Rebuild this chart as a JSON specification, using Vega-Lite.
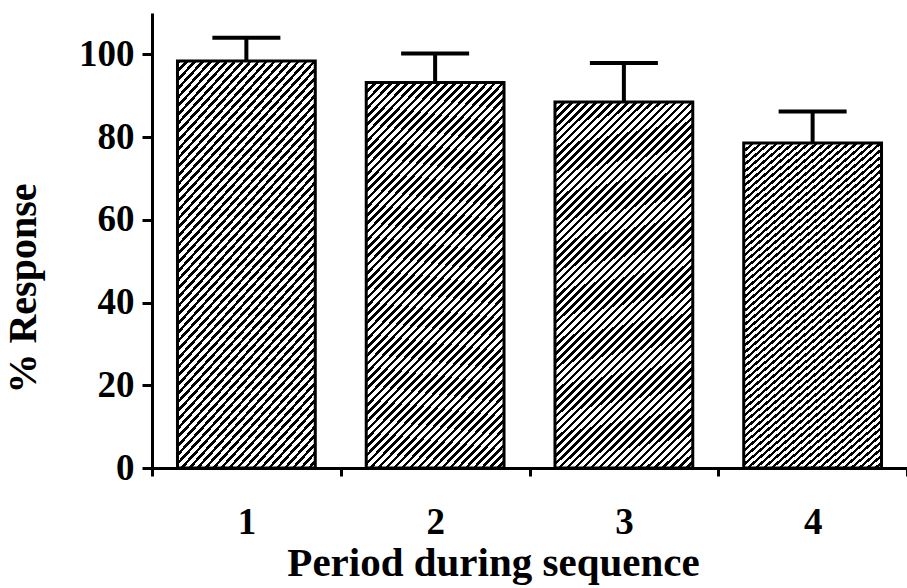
{
  "$schema": "https://vega.github.io/schema/vega-lite/v6.json",
  "width": 755,
  "height": 455,
  "autosize": "none",
  "padding": {"left": 152, "top": 13, "right": 0, "bottom": 120},
  "background": "white",
  "config": {
    "view": {"stroke": null},
    "font": "Liberation Serif",
    "axis": {"domainColor": "black", "domainWidth": 3, "tickColor": "black", "tickWidth": 3, "labelColor": "black", "titleColor": "black", "labelFont": "Liberation Serif", "titleFont": "Liberation Serif", "labelFontWeight": "bold", "titleFontWeight": "bold", "grid": false}
  },
  "data": {"values": [
    {"period": "1", "value": 98.4, "upper": 104.0},
    {"period": "2", "value": 93.2, "upper": 100.2},
    {"period": "3", "value": 88.5, "upper": 97.9},
    {"period": "4", "value": 78.6, "upper": 86.2}
  ]},
  "encoding": {
    "x": {"field": "period", "type": "ordinal", "scale": {"paddingInner": 0, "paddingOuter": 0},
      "axis": {"labelAngle": 0, "tickBand": "extent", "tickSize": 8, "labelBaseline": "alphabetic", "labelPadding": 57, "labelFontSize": 37,
        "title": "Period during sequence", "titleFontSize": 41, "titleX": 341, "titleY": 107, "titleBaseline": "alphabetic", "titleAlign": "center"}}
  },
  "layer": [
    {"mark": {"type": "bar", "width": {"band": 0.73}, "stroke": "black", "strokeWidth": 3,
      "fill": {"gradient": "linear", "x1": 0, "y1": 0, "x2": 0.446, "y2": 1.205, "stops": [
{"offset":0,"color":"#000"},{"offset":0.007,"color":"#000"},{"offset":0.007,"color":"#fff"},{"offset":0.015625,"color":"#fff"},
{"offset":0.015625,"color":"#000"},{"offset":0.022625,"color":"#000"},{"offset":0.022625,"color":"#fff"},{"offset":0.03125,"color":"#fff"},
{"offset":0.03125,"color":"#000"},{"offset":0.03825,"color":"#000"},{"offset":0.03825,"color":"#fff"},{"offset":0.046875,"color":"#fff"},
{"offset":0.046875,"color":"#000"},{"offset":0.053875,"color":"#000"},{"offset":0.053875,"color":"#fff"},{"offset":0.0625,"color":"#fff"},
{"offset":0.0625,"color":"#000"},{"offset":0.0695,"color":"#000"},{"offset":0.0695,"color":"#fff"},{"offset":0.078125,"color":"#fff"},
{"offset":0.078125,"color":"#000"},{"offset":0.085125,"color":"#000"},{"offset":0.085125,"color":"#fff"},{"offset":0.09375,"color":"#fff"},
{"offset":0.09375,"color":"#000"},{"offset":0.10075,"color":"#000"},{"offset":0.10075,"color":"#fff"},{"offset":0.109375,"color":"#fff"},
{"offset":0.109375,"color":"#000"},{"offset":0.116375,"color":"#000"},{"offset":0.116375,"color":"#fff"},{"offset":0.125,"color":"#fff"},
{"offset":0.125,"color":"#000"},{"offset":0.132,"color":"#000"},{"offset":0.132,"color":"#fff"},{"offset":0.140625,"color":"#fff"},
{"offset":0.140625,"color":"#000"},{"offset":0.147625,"color":"#000"},{"offset":0.147625,"color":"#fff"},{"offset":0.15625,"color":"#fff"},
{"offset":0.15625,"color":"#000"},{"offset":0.16325,"color":"#000"},{"offset":0.16325,"color":"#fff"},{"offset":0.171875,"color":"#fff"},
{"offset":0.171875,"color":"#000"},{"offset":0.178875,"color":"#000"},{"offset":0.178875,"color":"#fff"},{"offset":0.1875,"color":"#fff"},
{"offset":0.1875,"color":"#000"},{"offset":0.1945,"color":"#000"},{"offset":0.1945,"color":"#fff"},{"offset":0.203125,"color":"#fff"},
{"offset":0.203125,"color":"#000"},{"offset":0.210125,"color":"#000"},{"offset":0.210125,"color":"#fff"},{"offset":0.21875,"color":"#fff"},
{"offset":0.21875,"color":"#000"},{"offset":0.22575,"color":"#000"},{"offset":0.22575,"color":"#fff"},{"offset":0.234375,"color":"#fff"},
{"offset":0.234375,"color":"#000"},{"offset":0.241375,"color":"#000"},{"offset":0.241375,"color":"#fff"},{"offset":0.25,"color":"#fff"},
{"offset":0.25,"color":"#000"},{"offset":0.257,"color":"#000"},{"offset":0.257,"color":"#fff"},{"offset":0.265625,"color":"#fff"},
{"offset":0.265625,"color":"#000"},{"offset":0.272625,"color":"#000"},{"offset":0.272625,"color":"#fff"},{"offset":0.28125,"color":"#fff"},
{"offset":0.28125,"color":"#000"},{"offset":0.28825,"color":"#000"},{"offset":0.28825,"color":"#fff"},{"offset":0.296875,"color":"#fff"},
{"offset":0.296875,"color":"#000"},{"offset":0.303875,"color":"#000"},{"offset":0.303875,"color":"#fff"},{"offset":0.3125,"color":"#fff"},
{"offset":0.3125,"color":"#000"},{"offset":0.3195,"color":"#000"},{"offset":0.3195,"color":"#fff"},{"offset":0.328125,"color":"#fff"},
{"offset":0.328125,"color":"#000"},{"offset":0.335125,"color":"#000"},{"offset":0.335125,"color":"#fff"},{"offset":0.34375,"color":"#fff"},
{"offset":0.34375,"color":"#000"},{"offset":0.35075,"color":"#000"},{"offset":0.35075,"color":"#fff"},{"offset":0.359375,"color":"#fff"},
{"offset":0.359375,"color":"#000"},{"offset":0.366375,"color":"#000"},{"offset":0.366375,"color":"#fff"},{"offset":0.375,"color":"#fff"},
{"offset":0.375,"color":"#000"},{"offset":0.382,"color":"#000"},{"offset":0.382,"color":"#fff"},{"offset":0.390625,"color":"#fff"},
{"offset":0.390625,"color":"#000"},{"offset":0.397625,"color":"#000"},{"offset":0.397625,"color":"#fff"},{"offset":0.40625,"color":"#fff"},
{"offset":0.40625,"color":"#000"},{"offset":0.41325,"color":"#000"},{"offset":0.41325,"color":"#fff"},{"offset":0.421875,"color":"#fff"},
{"offset":0.421875,"color":"#000"},{"offset":0.428875,"color":"#000"},{"offset":0.428875,"color":"#fff"},{"offset":0.4375,"color":"#fff"},
{"offset":0.4375,"color":"#000"},{"offset":0.4445,"color":"#000"},{"offset":0.4445,"color":"#fff"},{"offset":0.453125,"color":"#fff"},
{"offset":0.453125,"color":"#000"},{"offset":0.460125,"color":"#000"},{"offset":0.460125,"color":"#fff"},{"offset":0.46875,"color":"#fff"},
{"offset":0.46875,"color":"#000"},{"offset":0.47575,"color":"#000"},{"offset":0.47575,"color":"#fff"},{"offset":0.484375,"color":"#fff"},
{"offset":0.484375,"color":"#000"},{"offset":0.491375,"color":"#000"},{"offset":0.491375,"color":"#fff"},{"offset":0.5,"color":"#fff"},
{"offset":0.5,"color":"#000"},{"offset":0.507,"color":"#000"},{"offset":0.507,"color":"#fff"},{"offset":0.515625,"color":"#fff"},
{"offset":0.515625,"color":"#000"},{"offset":0.522625,"color":"#000"},{"offset":0.522625,"color":"#fff"},{"offset":0.53125,"color":"#fff"},
{"offset":0.53125,"color":"#000"},{"offset":0.53825,"color":"#000"},{"offset":0.53825,"color":"#fff"},{"offset":0.546875,"color":"#fff"},
{"offset":0.546875,"color":"#000"},{"offset":0.553875,"color":"#000"},{"offset":0.553875,"color":"#fff"},{"offset":0.5625,"color":"#fff"},
{"offset":0.5625,"color":"#000"},{"offset":0.5695,"color":"#000"},{"offset":0.5695,"color":"#fff"},{"offset":0.578125,"color":"#fff"},
{"offset":0.578125,"color":"#000"},{"offset":0.585125,"color":"#000"},{"offset":0.585125,"color":"#fff"},{"offset":0.59375,"color":"#fff"},
{"offset":0.59375,"color":"#000"},{"offset":0.60075,"color":"#000"},{"offset":0.60075,"color":"#fff"},{"offset":0.609375,"color":"#fff"},
{"offset":0.609375,"color":"#000"},{"offset":0.616375,"color":"#000"},{"offset":0.616375,"color":"#fff"},{"offset":0.625,"color":"#fff"},
{"offset":0.625,"color":"#000"},{"offset":0.632,"color":"#000"},{"offset":0.632,"color":"#fff"},{"offset":0.640625,"color":"#fff"},
{"offset":0.640625,"color":"#000"},{"offset":0.647625,"color":"#000"},{"offset":0.647625,"color":"#fff"},{"offset":0.65625,"color":"#fff"},
{"offset":0.65625,"color":"#000"},{"offset":0.66325,"color":"#000"},{"offset":0.66325,"color":"#fff"},{"offset":0.671875,"color":"#fff"},
{"offset":0.671875,"color":"#000"},{"offset":0.678875,"color":"#000"},{"offset":0.678875,"color":"#fff"},{"offset":0.6875,"color":"#fff"},
{"offset":0.6875,"color":"#000"},{"offset":0.6945,"color":"#000"},{"offset":0.6945,"color":"#fff"},{"offset":0.703125,"color":"#fff"},
{"offset":0.703125,"color":"#000"},{"offset":0.710125,"color":"#000"},{"offset":0.710125,"color":"#fff"},{"offset":0.71875,"color":"#fff"},
{"offset":0.71875,"color":"#000"},{"offset":0.72575,"color":"#000"},{"offset":0.72575,"color":"#fff"},{"offset":0.734375,"color":"#fff"},
{"offset":0.734375,"color":"#000"},{"offset":0.741375,"color":"#000"},{"offset":0.741375,"color":"#fff"},{"offset":0.75,"color":"#fff"},
{"offset":0.75,"color":"#000"},{"offset":0.757,"color":"#000"},{"offset":0.757,"color":"#fff"},{"offset":0.765625,"color":"#fff"},
{"offset":0.765625,"color":"#000"},{"offset":0.772625,"color":"#000"},{"offset":0.772625,"color":"#fff"},{"offset":0.78125,"color":"#fff"},
{"offset":0.78125,"color":"#000"},{"offset":0.78825,"color":"#000"},{"offset":0.78825,"color":"#fff"},{"offset":0.796875,"color":"#fff"},
{"offset":0.796875,"color":"#000"},{"offset":0.803875,"color":"#000"},{"offset":0.803875,"color":"#fff"},{"offset":0.8125,"color":"#fff"},
{"offset":0.8125,"color":"#000"},{"offset":0.8195,"color":"#000"},{"offset":0.8195,"color":"#fff"},{"offset":0.828125,"color":"#fff"},
{"offset":0.828125,"color":"#000"},{"offset":0.835125,"color":"#000"},{"offset":0.835125,"color":"#fff"},{"offset":0.84375,"color":"#fff"},
{"offset":0.84375,"color":"#000"},{"offset":0.85075,"color":"#000"},{"offset":0.85075,"color":"#fff"},{"offset":0.859375,"color":"#fff"},
{"offset":0.859375,"color":"#000"},{"offset":0.866375,"color":"#000"},{"offset":0.866375,"color":"#fff"},{"offset":0.875,"color":"#fff"},
{"offset":0.875,"color":"#000"},{"offset":0.882,"color":"#000"},{"offset":0.882,"color":"#fff"},{"offset":0.890625,"color":"#fff"},
{"offset":0.890625,"color":"#000"},{"offset":0.897625,"color":"#000"},{"offset":0.897625,"color":"#fff"},{"offset":0.90625,"color":"#fff"},
{"offset":0.90625,"color":"#000"},{"offset":0.91325,"color":"#000"},{"offset":0.91325,"color":"#fff"},{"offset":0.921875,"color":"#fff"},
{"offset":0.921875,"color":"#000"},{"offset":0.928875,"color":"#000"},{"offset":0.928875,"color":"#fff"},{"offset":0.9375,"color":"#fff"},
{"offset":0.9375,"color":"#000"},{"offset":0.9445,"color":"#000"},{"offset":0.9445,"color":"#fff"},{"offset":0.953125,"color":"#fff"},
{"offset":0.953125,"color":"#000"},{"offset":0.960125,"color":"#000"},{"offset":0.960125,"color":"#fff"},{"offset":0.96875,"color":"#fff"},
{"offset":0.96875,"color":"#000"},{"offset":0.97575,"color":"#000"},{"offset":0.97575,"color":"#fff"},{"offset":0.984375,"color":"#fff"},
{"offset":0.984375,"color":"#000"},{"offset":0.991375,"color":"#000"},{"offset":0.991375,"color":"#fff"},{"offset":1,"color":"#fff"}
      ]}},
      "encoding": {"y": {"field": "value", "type": "quantitative", "scale": {"domain": [0, 110], "nice": false},
        "axis": {"values": [0, 20, 40, 60, 80, 100], "tickSize": 10, "labelPadding": 8, "labelFontSize": 37,
          "title": "% Response", "titleFontSize": 40, "titleX": -117, "titleY": 275, "titleAngle": -90, "titleAlign": "center", "titleBaseline": "alphabetic"}}}},
    {"mark": {"type": "rule", "color": "black", "strokeWidth": 4},
      "encoding": {"y": {"field": "value", "type": "quantitative"}, "y2": {"field": "upper"}}},
    {"mark": {"type": "tick", "color": "black", "thickness": 4, "size": 68, "orient": "horizontal", "opacity": 1},
      "encoding": {"y": {"field": "upper", "type": "quantitative"}}}
  ]
}
